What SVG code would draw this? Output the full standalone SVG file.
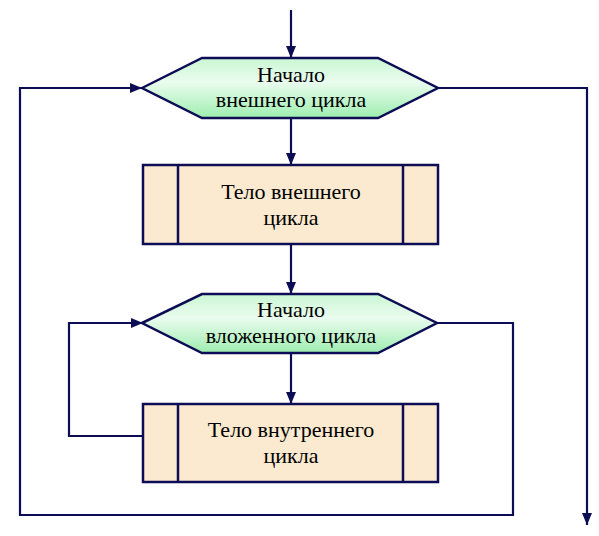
<svg xmlns="http://www.w3.org/2000/svg" width="599" height="536" viewBox="0 0 599 536">
<defs>
<linearGradient id="hexFill" x1="0" y1="0" x2="0" y2="1">
<stop offset="0" stop-color="#c9f6d3"/>
<stop offset="0.4" stop-color="#eafcee"/>
<stop offset="1" stop-color="#9eeeb0"/>
</linearGradient>
<marker id="arr" viewBox="0 0 12 10" refX="12" refY="5" markerWidth="12" markerHeight="10" markerUnits="userSpaceOnUse" orient="auto">
<path d="M0,0 L12,5 L0,10 Z" fill="#0d0d55"/>
</marker>
<style>
.shape{stroke:#0d0d55;stroke-width:2.5;}
.hex{fill:url(#hexFill);}
.box{fill:#fbeacf;}
.div{stroke:#0d0d55;stroke-width:2.5;fill:none;}
.con{fill:none;stroke:#0d0d55;stroke-width:2.2;}
text{font-family:"Liberation Serif","DejaVu Serif",serif;font-size:22px;fill:#000;text-anchor:middle;}
</style>
</defs>
<rect width="599" height="536" fill="#fff"/>
<g id="connectors">
<path class="con" d="M291,10 L291,58" marker-end="url(#arr)"/>
<path class="con" d="M291,118 L291,165" marker-end="url(#arr)"/>
<path class="con" d="M291,244 L291,294" marker-end="url(#arr)"/>
<path class="con" d="M291,353 L291,404" marker-end="url(#arr)"/>
<path class="con" d="M143,436 L69,436 L69,323 L143,323" marker-end="url(#arr)"/>
<path class="con" d="M437,323 L513,323 L513,515 L20,515 L20,88 L142,88" marker-end="url(#arr)"/>
<path class="con" d="M438,88 L587,88 L587,525" marker-end="url(#arr)"/>
</g>
<g id="outer-loop-start">
<polygon class="shape hex" points="142,88 202,58 378,58 438,88 378,118 202,118"/>
<text x="291" y="82" font-family="Liberation Serif, DejaVu Serif, serif">Начало</text>
<text x="291" y="107" font-family="Liberation Serif, DejaVu Serif, serif">внешнего цикла</text>
</g>
<g id="outer-body">
<rect class="shape box" x="143" y="165" width="295" height="79"/>
<path class="div" d="M178,165 L178,244 M403,165 L403,244"/>
<text x="291" y="199" font-family="Liberation Serif, DejaVu Serif, serif">Тело внешнего</text>
<text x="291" y="225" font-family="Liberation Serif, DejaVu Serif, serif">цикла</text>
</g>
<g id="inner-loop-start">
<polygon class="shape hex" points="142,323 202,294 378,294 437,323 378,353 202,353"/>
<text x="291" y="317" font-family="Liberation Serif, DejaVu Serif, serif">Начало</text>
<text x="291" y="343" font-family="Liberation Serif, DejaVu Serif, serif">вложенного цикла</text>
</g>
<g id="inner-body">
<rect class="shape box" x="143" y="404" width="295" height="78"/>
<path class="div" d="M178,404 L178,482 M403,404 L403,482"/>
<text x="291" y="437" font-family="Liberation Serif, DejaVu Serif, serif">Тело внутреннего</text>
<text x="291" y="463" font-family="Liberation Serif, DejaVu Serif, serif">цикла</text>
</g>
</svg>
